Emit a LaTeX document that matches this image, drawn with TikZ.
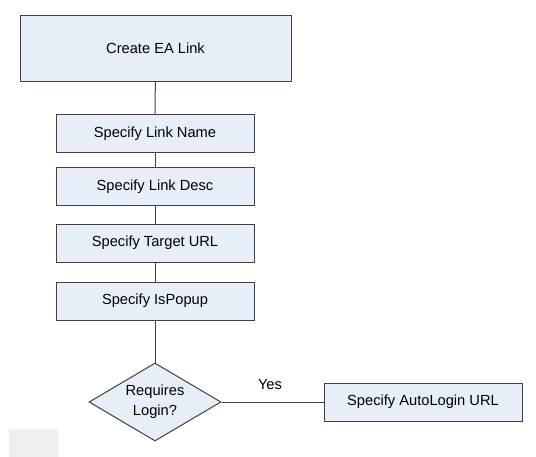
\documentclass[tikz,border=0pt]{standalone}
\usepackage{fontspec}
\setmainfont{Liberation Sans}
\usetikzlibrary{shapes.geometric}
\definecolor{azulcaja}{HTML}{E8EEF7}
\definecolor{bordecaja}{HTML}{404040}
\definecolor{grisfondo}{HTML}{EFEFEF}
\tikzset{
  caja/.style={draw=bordecaja, fill=azulcaja, line width=0.75pt, inner sep=0pt,
    minimum width=148.5pt, minimum height=28.5pt, font=\fontsize{11}{15}\selectfont},
  cajagrande/.style={caja, minimum width=203.25pt, minimum height=49.5pt},
  rombo/.style={caja, diamond, aspect=1.7, align=center, minimum width=99pt, minimum height=58.5pt},
  linea/.style={draw=bordecaja, line width=0.75pt},
  etiqueta/.style={font=\fontsize{11}{15}\selectfont, inner sep=0pt}
}
\begin{document}
\begin{tikzpicture}[x=0.75pt,y=-0.75pt]
        % Paso 1: Fija el marco del dibujo
        \useasboundingbox (0,0) rectangle (536,457);

        % Paso 2: Define las cajas del flujo principal
        \node[cajagrande] (crear) at (155.5,48) {Create EA Link};
        \node[caja] (nombre) at (155,133.5) {Specify Link Name};
        \node[caja] (desc) at (155,186.5) {Specify Link Desc};
        \node[caja] (url) at (155,243) {Specify Target URL};
        \node[caja] (popup) at (155,301) {Specify IsPopup};

        % Paso 3: Agrega la decision y la caja del lado derecho
        \node[rombo] (login) at (155,402) {Requires\\Login?};
        \node[caja] (autologin) at (423,402) {Specify AutoLogin URL};

        % Paso 4: Une las cajas
        \draw[linea] (crear) -- (nombre);
        \draw[linea] (nombre) -- (desc);
        \draw[linea] (desc) -- (url);
        \draw[linea] (url) -- (popup);
        \draw[linea] (popup) -- (login);
        \draw[linea] (login) -- (autologin);

        % Paso 5: Agrega la leyenda de la rama
        \node[etiqueta] (si) at (270,385) {Yes};

        % Paso 6: Dibuja el recuadro gris de abajo
        \fill[grisfondo] (9,429) rectangle (58,457);
\end{tikzpicture}
\end{document}
